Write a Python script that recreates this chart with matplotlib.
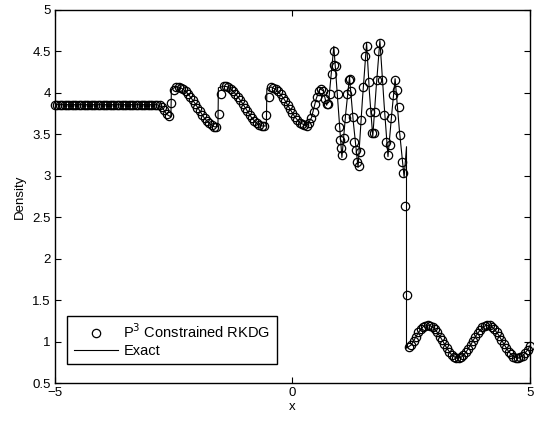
import numpy as np
import matplotlib.pyplot as plt

plt.rcParams["font.family"] = ["Liberation Sans", "DejaVu Sans"]

# numerical solution, uniform part x = -5 .. 0.30 (step 0.05)
rho_left = ([3.857] * 44
            + [3.85, 3.83, 3.79, 3.74, 3.72, 3.88, 4.03]
            + [4.07, 4.07, 4.06, 4.05, 4.02, 3.99, 3.95, 3.91, 3.87,
               3.82, 3.78, 3.73, 3.69, 3.66, 3.63, 3.61, 3.59, 3.59]
            + [3.75, 3.99]
            + [4.08, 4.08, 4.07, 4.05, 4.02, 3.99, 3.95, 3.91, 3.87,
               3.82, 3.78, 3.73, 3.69, 3.66, 3.63, 3.61, 3.60, 3.60]
            + [3.73, 3.95]
            + [4.07, 4.06, 4.04, 4.02, 3.98, 3.94, 3.90, 3.85, 3.80,
               3.76, 3.71, 3.67, 3.64, 3.62, 3.61, 3.60])

# numerical solution in the high frequency zone
x_mid = [0.35, 0.40, 0.45, 0.48, 0.52, 0.56, 0.60, 0.64, 0.69, 0.72,
         0.75, 0.80, 0.84, 0.87, 0.87, 0.92, 0.95, 0.98, 1.01, 1.02,
         1.05, 1.09, 1.12, 1.15, 1.18, 1.21, 1.24, 1.27, 1.30, 1.33,
         1.36, 1.39, 1.42, 1.45, 1.48, 1.53, 1.56, 1.61, 1.64, 1.68,
         1.71, 1.74, 1.78, 1.81, 1.84, 1.88, 1.92, 1.97, 2.01, 2.05,
         2.07, 2.12, 2.16, 2.21, 2.24, 2.27, 2.30, 2.33, 2.37, 2.41]
rho_mid = [3.63, 3.70, 3.77, 3.87, 3.95, 4.02, 4.04, 4.02, 3.93, 3.86,
           3.86, 3.99, 4.23, 4.34, 4.50, 4.32, 3.98, 3.59, 3.43, 3.33,
           3.25, 3.45, 3.69, 3.99, 4.15, 4.17, 4.02, 3.71, 3.41, 3.31,
           3.17, 3.12, 3.29, 3.67, 4.07, 4.44, 4.56, 4.13, 3.77, 3.51,
           3.51, 3.77, 4.15, 4.50, 4.60, 4.15, 3.73, 3.41, 3.25, 3.37,
           3.69, 3.97, 4.15, 4.03, 3.83, 3.49, 3.17, 3.03, 2.63, 1.56]

# numerical solution ahead of the shock, x = 2.45 .. 5 (step 0.05)
rho_right = [0.94, 0.96, 1.01, 1.06, 1.11, 1.15, 1.18, 1.19, 1.20, 1.19,
             1.18, 1.15, 1.11, 1.06, 1.02, 0.97, 0.92, 0.88, 0.84, 0.82,
             0.80, 0.80, 0.81, 0.84, 0.87, 0.91, 0.96, 1.01, 1.06, 1.10,
             1.14, 1.17, 1.19, 1.20, 1.20, 1.18, 1.15, 1.11, 1.07, 1.02,
             0.97, 0.92, 0.88, 0.85, 0.82, 0.80, 0.80, 0.81, 0.83, 0.86,
             0.90, 0.95]

# reference solution
x_exact = [-5.0, -2.85, -2.75, -2.65, -2.56, -2.55, -2.45, -2.35, -2.25,
           -2.15, -2.05, -1.95, -1.85, -1.75, -1.65, -1.57, -1.56, -1.45,
           -1.35, -1.25, -1.15, -1.05, -0.95, -0.85, -0.75, -0.65, -0.55,
           -0.54, -0.45, -0.35, -0.25, -0.15, -0.05, 0.05, 0.15, 0.30,
           0.40, 0.50, 0.58, 0.65, 0.72, 0.77, 0.87, 0.96, 1.04, 1.12,
           1.20, 1.28, 1.38, 1.47, 1.56, 1.62, 1.69, 1.76, 1.84, 1.93,
           2.01, 2.09, 2.16, 2.25, 2.35, 2.40, 2.40, 2.50, 2.65, 2.75,
           2.85, 2.95, 3.05, 3.15, 3.25, 3.35, 3.45, 3.55, 3.65, 3.75,
           3.85, 3.95, 4.05, 4.15, 4.25, 4.35, 4.45, 4.55, 4.65, 4.75,
           4.85, 4.95, 5.0]
rho_exact = [3.857, 3.857, 3.83, 3.74, 3.71, 4.04, 4.075, 4.06, 4.02,
             3.95, 3.87, 3.78, 3.69, 3.63, 3.59, 3.59, 4.06, 4.08,
             4.07, 4.02, 3.95, 3.87, 3.78, 3.69, 3.63, 3.60, 3.60,
             4.05, 4.07, 4.04, 3.98, 3.90, 3.80, 3.71, 3.64, 3.60,
             3.70, 3.93, 4.05, 4.02, 3.85, 3.95, 4.56, 3.85, 3.22, 3.75,
             4.19, 3.65, 3.10, 3.90, 4.60, 4.00, 3.47, 4.05, 4.63, 3.85,
             3.23, 3.75, 4.17, 3.55, 2.98, 3.35, 0.92, 0.96, 1.11, 1.18,
             1.20, 1.18, 1.11, 1.02, 0.92, 0.84, 0.80, 0.81, 0.87, 0.96,
             1.06, 1.14, 1.19, 1.20, 1.15, 1.07, 0.97, 0.88, 0.82, 0.80,
             0.83, 0.90, 0.95]

x_left = np.linspace(-5.0, 0.30, len(rho_left))
x_right = np.linspace(2.45, 5.0, len(rho_right))
x_num = np.concatenate([x_left, x_mid, x_right])
rho_num = np.concatenate([rho_left, rho_mid, rho_right])

fig = plt.figure(figsize=(5.34, 4.28), dpi=100)
ax = fig.add_axes([0.103, 0.105, 0.8895, 0.872])

ax.plot(x_num, rho_num, linestyle="none", marker="o", markersize=6.0,
        markerfacecolor="none", markeredgecolor="black",
        markeredgewidth=0.9, label="P$^3$ Constrained RKDG", clip_on=False)
ax.plot(x_exact, rho_exact, color="black", linewidth=0.8, label="Exact")

ax.set_xlim(-5, 5)
ax.set_ylim(0.5, 5)
ax.set_xticks([-5, 0, 5])
ax.set_xticklabels(["\u22125", "0", "5"])
ax.set_yticks(np.arange(0.5, 5.01, 0.5))
ax.set_yticklabels(["0.5", "1", "1.5", "2", "2.5", "3", "3.5", "4", "4.5", "5"])
ax.tick_params(direction="in", top=True, right=True, length=4,
               width=0.8, labelsize=9.5, pad=3)
for s in ax.spines.values():
    s.set_linewidth(1.0)

ax.set_xlabel("x", fontsize=9.5, labelpad=1)
ax.set_ylabel("Density", fontsize=9.5, labelpad=5)

leg = ax.legend(loc="lower left", bbox_to_anchor=(0.026, 0.05),
                borderaxespad=0, fancybox=False, edgecolor="black",
                framealpha=1, fontsize=10.5, handlelength=3.0,
                handletextpad=0.4, borderpad=0.45, labelspacing=0.2)
leg.get_frame().set_linewidth(1.0)

fig.savefig("out.png", dpi=100)
